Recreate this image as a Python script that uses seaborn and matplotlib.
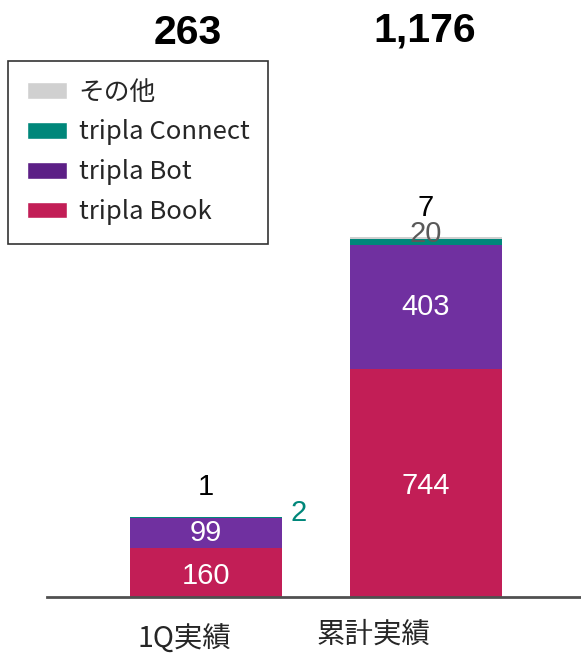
import matplotlib
matplotlib.use("Agg")
import matplotlib.pyplot as plt
import seaborn as sns
import pandas as pd
import numpy as np
from matplotlib.patches import Patch

sns.set_style("white")
plt.rcParams['font.family'] = ['Noto Sans CJK JP', 'DejaVu Sans']

categories = ["1Q実績", "累計実績"]
book = [160, 744]
bot = [99, 403]
connect = [2, 20]
other = [1, 7]
totals = ["263", "1,176"]
series_names = ["その他", "tripla Connect", "tripla Bot", "tripla Book"]

c_book = "#C21E56"
c_bot = "#7030A0"
c_bot_leg = "#5C1F86"
c_conn = "#00877A"
c_other = "#D0D0D0"

book_a = np.array(book, float)
bot_a = np.array(bot, float)
conn_a = np.array(connect, float)
oth_a = np.array(other, float)
cum1 = book_a
cum2 = cum1 + bot_a
cum3 = cum2 + conn_a
cum4 = cum3 + oth_a

fig = plt.figure(figsize=(5.81, 6.55), dpi=100)
ax = fig.add_axes([47/581, 58/655, 534/581, 597/655])

W = 0.69
for cum, col in [(cum4, c_other), (cum3, c_conn), (cum2, c_bot), (cum1, c_book)]:
    df = pd.DataFrame({"cat": categories, "v": cum})
    sns.barplot(data=df, x="cat", y="v", color=col, width=W, saturation=1,
                ax=ax, edgecolor="none", linewidth=0)

ax.set_xlim(-0.7227, 1.7045)
ax.set_ylim(0, 1945)
ax.set_xlabel("")
ax.set_ylabel("")
ax.set_yticks([])
ax.set_xticks([])
for s in ["top", "right", "left"]:
    ax.spines[s].set_visible(False)
ax.spines["bottom"].set_color("#505050")
ax.spines["bottom"].set_linewidth(2)

num_font = ["Liberation Sans", "DejaVu Sans"]
fs = 21
for i in range(2):
    ax.text(i, book_a[i] / 2 - 10, str(book[i]), ha="center", va="center",
            color="white", fontsize=fs, family=num_font)
    ax.text(i, cum1[i] + bot_a[i] / 2, str(bot[i]), ha="center", va="center",
            color="white", fontsize=fs, family=num_font)

ax.text(0, 358, str(other[0]), ha="center", va="center", color="black", fontsize=fs, family=num_font)
ax.text(0.42, 274, str(connect[0]), ha="center", va="center", color=c_conn, fontsize=fs, family=num_font)
ax.text(1, 1267, str(other[1]), ha="center", va="center", color="black", fontsize=fs, family=num_font)
ax.text(1, 1182, str(connect[1]), ha="center", va="center", color="#595959", fontsize=fs, family=num_font)

# totals
ax.text(-0.085, 1837, totals[0], ha="center", va="center", color="black",
        fontsize=29.5, fontweight="bold", family=num_font)
ax.text(0.995, 1847, totals[1], ha="center", va="center", color="black",
        fontsize=29.5, fontweight="bold", family=num_font)

# category labels
ax.text(-0.1, -0.071, categories[0], transform=ax.get_xaxis_transform(),
        ha="center", va="center", fontsize=20.5)
ax.text(0.76, -0.063, categories[1], transform=ax.get_xaxis_transform(),
        ha="center", va="center", fontsize=20.5)

handles = [Patch(facecolor=c_other), Patch(facecolor=c_conn),
           Patch(facecolor=c_bot_leg), Patch(facecolor=c_book)]
leg = fig.legend(handles, series_names, loc="upper left",
                 bbox_to_anchor=(8/581, 1 - 61/655), borderaxespad=0,
                 fontsize=18.5, frameon=True, fancybox=False,
                 handlelength=1.56, handleheight=0.62, handletextpad=0.47,
                 labelspacing=0.54, borderpad=0.72)
leg.get_frame().set_edgecolor("black")
leg.get_frame().set_linewidth(1.2)

fig.savefig("out.png", dpi=100)
